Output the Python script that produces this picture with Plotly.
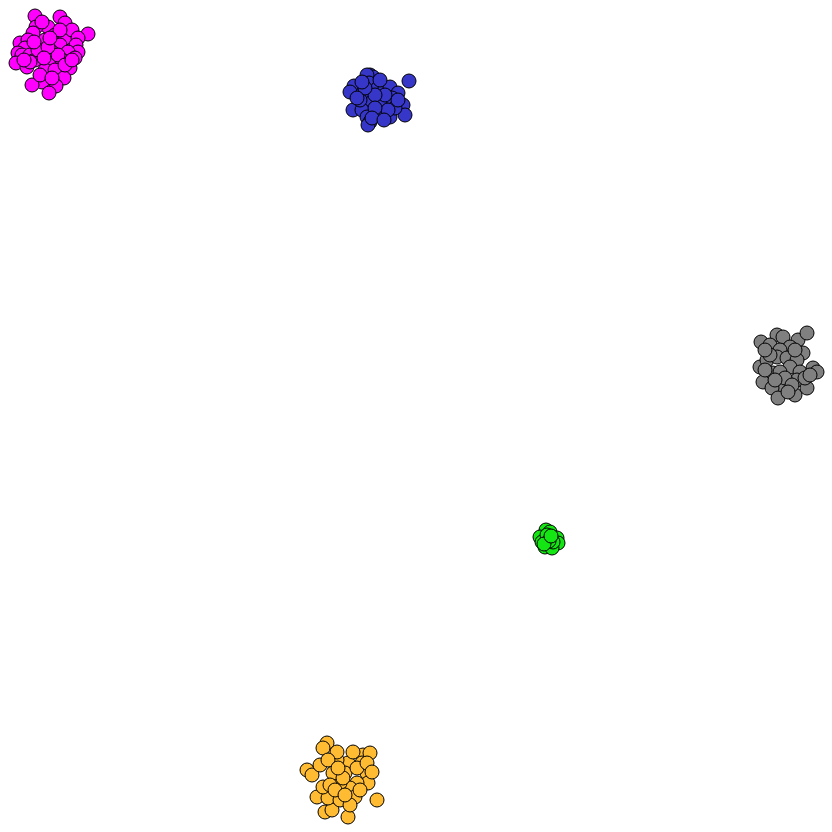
import plotly.graph_objects as go

# Cluster point values (x, y); y axis runs downward
magenta_x = [35,60,65,48,36,42,88,33,55,65,72,20,28,40,45,60,78,76,78,25,18,22,30,52,68,16,27,35,50,62,75,45,55,70,64,42,56,32,49,38,58,48,30,65,40,52,72,24,44,60,50,34]
magenta_y = [16,17,23,27,27,22,34,33,35,38,30,43,40,45,40,45,38,45,52,48,53,55,55,52,52,63,67,60,60,60,58,70,70,68,78,82,86,85,93,50,55,47,62,65,75,78,60,60,58,30,38,42]

blue_x = [409,370,373,367,354,350,369,378,385,390,398,363,372,383,392,403,405,353,362,367,370,368,377,380,390,360,385,375,395,365,357,388,375,398,380,362,372,384]
blue_y = [81,75,77,75,86,92,83,88,88,87,93,93,102,105,98,105,115,110,110,117,122,125,113,115,117,100,95,95,108,88,98,110,108,100,80,82,118,120]

gray_x = [761,777,783,798,807,770,790,803,780,760,767,777,787,797,813,817,763,773,790,800,765,780,797,783,772,778,795,807,785,770,792,805,775,788,810,765,795]
gray_y = [342,335,337,340,333,345,347,353,350,367,360,357,358,360,368,372,382,373,367,372,370,372,380,387,388,398,395,388,378,355,385,378,380,392,375,350,350]

green_x = [546,550,540,557,558,545,552,548,542,553,547,549,544,551]
green_y = [530,532,537,538,543,547,548,540,542,542,535,541,544,536]

orange_x = [327,323,307,312,377,348,325,332,317,328,340,363,370,362,367,368,357,350,340,333,348,337,355,323,330,345,357,337,353,367,343,335,360,320,350,372,328,345,338]
orange_y = [743,748,770,775,800,817,812,810,797,798,800,755,753,763,773,783,783,788,783,773,763,760,797,787,785,773,768,752,752,763,778,790,790,765,805,772,760,795,768]

clusters = [
    (magenta_x, magenta_y, "#FF00FF"),
    (blue_x, blue_y, "#3636C8"),
    (gray_x, gray_y, "#808080"),
    (green_x, green_y, "#14E614"),
    (orange_x, orange_y, "#FFBC32"),
]

fig = go.Figure()
for xs, ys, col in clusters:
    fig.add_trace(go.Scatter(
        x=xs, y=ys, mode="markers",
        marker=dict(size=14, color=col, line=dict(color="black", width=1)),
        hoverinfo="skip",
    ))

fig.update_layout(
    width=832, height=832,
    margin=dict(l=0, r=0, t=0, b=0),
    paper_bgcolor="white", plot_bgcolor="white",
    showlegend=False,
    xaxis=dict(range=[0, 832], visible=False),
    yaxis=dict(range=[832, 0], visible=False),
)

fig.write_html("out.html")
